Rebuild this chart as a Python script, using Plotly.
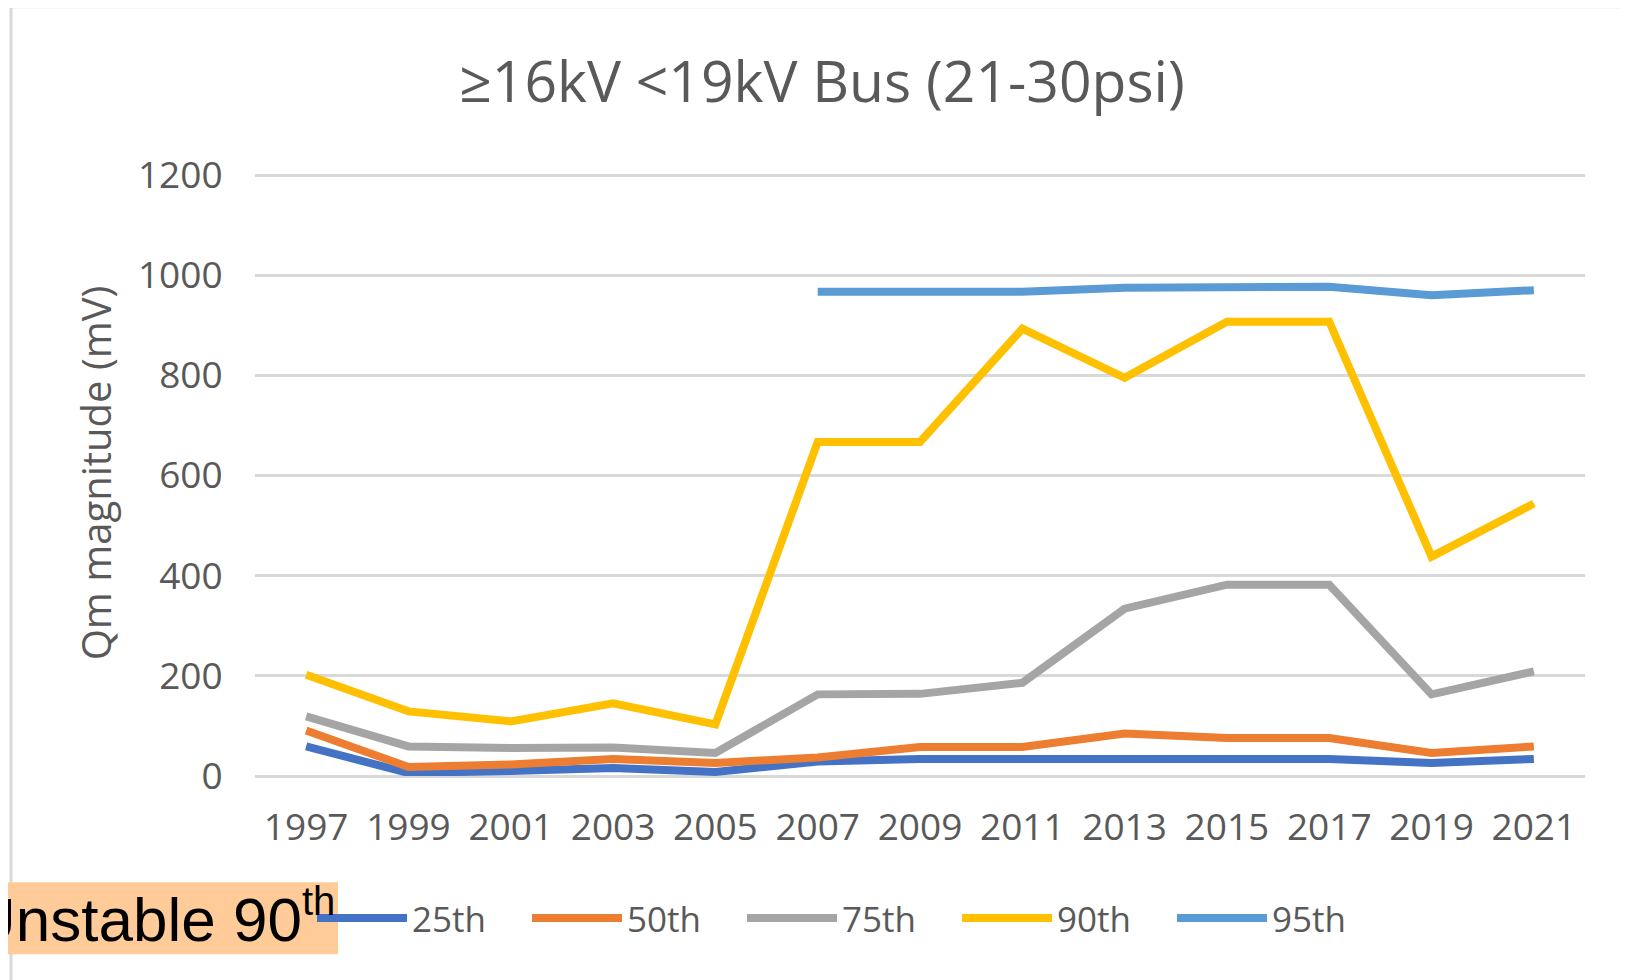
import plotly.graph_objects as go

years = ["1997", "1999", "2001", "2003", "2005", "2007", "2009",
         "2011", "2013", "2015", "2017", "2019", "2021"]

p25 = [59, 6, 10, 16, 8, 29, 34, 34, 34, 34, 34, 26, 34]
p50 = [91, 18, 23, 34, 26, 37, 58, 58, 85, 76, 76, 46, 59]
p75 = [119, 59, 56, 57, 46, 163, 164, 186, 334, 382, 382, 163, 209]
p90 = [202, 129, 109, 145, 103, 667, 667, 893, 795, 907, 907, 438, 544]
p95 = [None, None, None, None, None, 967, 967, 967, 975, 977, 977, 960, 970]

series_names = ["25th", "50th", "75th", "90th", "95th"]
series_colors = ["#4472C4", "#ED7D31", "#A5A5A5", "#FFC000", "#5B9BD5"]

y_ticks = [0, 200, 400, 600, 800, 1000, 1200]

FONT = "Open Sans"
GREY = "#595959"

# page has an 8px body margin, so screen pixel = figure pixel + 8
OFF = 8
W, H = 1628, 980
# plot area in screen pixels (y range runs 0..1210 so 1200 grid line is shown)
L, R, T, B = 255, 1585, 169.5, 776.5
L, R, T, B = L - OFF, R - OFF, T - OFF, B - OFF


def px_x(px):
    return (px - OFF - L) / (R - L)


def px_y(py):
    return (B - (py - OFF)) / (B - T)


fig = go.Figure()
for name, vals, col in zip(series_names, [p25, p50, p75, p90, p95], series_colors):
    fig.add_trace(go.Scatter(x=years, y=vals, name=name, mode="lines",
                             line=dict(color=col, width=8),
                             connectgaps=False))

fig.update_layout(
    width=W, height=H,
    margin=dict(l=L, r=W - R, t=T, b=H - B, autoexpand=False),
    paper_bgcolor="white", plot_bgcolor="white",
    font=dict(family=FONT, color=GREY, size=35),
    title=dict(text="≥16kV <19kV Bus (21-30psi)", x=(822 - OFF) / W, xanchor="center",
               y=1 - (82 - OFF) / H, yanchor="middle", xref="container", yref="container",
               font=dict(size=57, color=GREY, family=FONT)),
    showlegend=True,
    legend=dict(orientation="h", x=px_x(312), xanchor="left",
                y=px_y(919), yanchor="middle",
                font=dict(size=35, color=GREY, family=FONT),
                itemwidth=90, entrywidth=110, entrywidthmode="pixels",
                bgcolor="rgba(0,0,0,0)"),
)

fig.update_xaxes(type="category", range=[-0.5, 12.5], showgrid=False,
                 showline=False, zeroline=False,
                 ticks="outside", ticklen=19, tickcolor="rgba(0,0,0,0)",
                 tickfont=dict(size=37, color=GREY, family=FONT))
fig.update_yaxes(range=[0, 1210], tickvals=y_ticks, showgrid=True,
                 gridcolor="#D9D9D9", gridwidth=2.5, zeroline=True,
                 zerolinecolor="#D9D9D9", zerolinewidth=2.5, showline=False,
                 ticks="outside", ticklen=24, tickcolor="rgba(0,0,0,0)",
                 tickfont=dict(size=37, color=GREY, family=FONT),
                 title=dict(text="Qm magnitude (mV)", standoff=13,
                            font=dict(size=40, color=GREY, family=FONT)))

# chart-area border
fig.add_shape(type="rect", xref="paper", yref="paper",
              x0=px_x(11), x1=px_x(1700), y0=px_y(6), y1=px_y(1100),
              line=dict(color="#D9D9D9", width=3), fillcolor="rgba(0,0,0,0)",
              layer="below")

# highlighted note box
fig.add_shape(type="rect", xref="paper", yref="paper",
              x0=px_x(-5), x1=px_x(338), y0=px_y(883), y1=px_y(955),
              line=dict(width=0), fillcolor="#FFCC99", layer="above")
fig.add_annotation(xref="paper", yref="paper", x=px_x(337), y=px_y(917),
                   xanchor="right", yanchor="middle", showarrow=False,
                   text="Unstable 90<sup><span style='font-size:40px'>th</span></sup>",
                   font=dict(family="Liberation Sans", size=62, color="black"))

fig.write_html("out.html")
